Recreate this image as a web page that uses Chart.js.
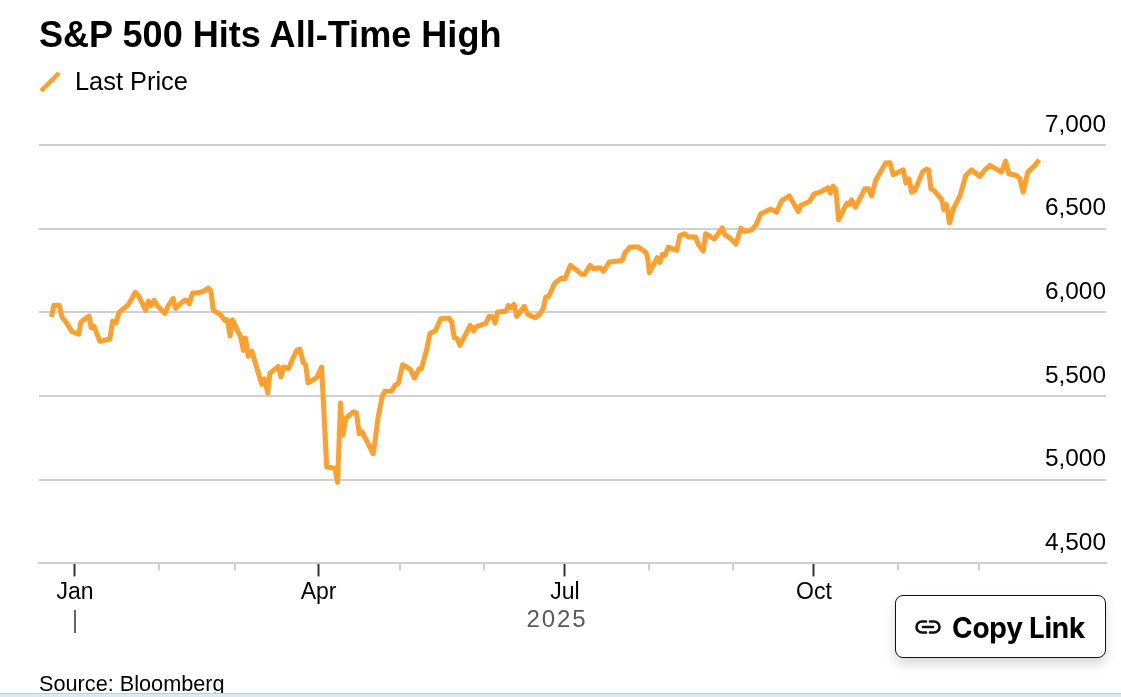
<!DOCTYPE html>
<html>
<head>
<meta charset="utf-8">
<title>S&amp;P 500 Hits All-Time High</title>
<script src="https://cdn.jsdelivr.net/npm/chart.js@4"></script>
<style>
  html, body { margin: 0; padding: 0; background: #fff; overflow: hidden; }
  body { width: 1121px; height: 697px; position: relative; font-family: "Liberation Sans", sans-serif; color: #000; }
  #chart { position: absolute; left: 0; top: 0; }
  .txt { position: absolute; white-space: nowrap; line-height: 1; }
  #title { left: 39px; top: 17px; font-size: 36.1px; font-weight: bold; }
  #legend-mark { position: absolute; left: 39px; top: 71px; }
  #legend { left: 75px; top: 69px; font-size: 25.4px; }
  #source { left: 39px; top: 673px; font-size: 21.7px; }
  #strip { position: absolute; left: 0; top: 693px; width: 1121px; height: 4px; background: #dbeaf2; border-top: 1px solid #b9cfda; box-sizing: border-box; }
  #copy { position: absolute; left: 895px; top: 595px; width: 211px; height: 63px; box-sizing: border-box; border: 1px solid #111; border-radius: 8px; background: #fff; box-shadow: 0 6px 12px rgba(0,0,0,.16); }
  #copy svg { position: absolute; left: 19px; top: 23px; }
  #copy span { position: absolute; left: 56px; top: 18px; font: bold 28px/1 Inter, sans-serif; letter-spacing: -.3px; white-space: nowrap; }
</style>
</head>
<body>
<canvas id="chart" width="1121" height="697"></canvas>
<div class="txt" id="title">S&amp;P 500 Hits All-Time High</div>
<svg id="legend-mark" width="22" height="22"><line x1="2" y1="20" x2="20" y2="2" stroke="#ff9f2e" stroke-width="4.5"/></svg>
<div class="txt" id="legend">Last Price</div>
<div class="txt" id="source">Source: Bloomberg</div>
<div id="strip"></div>
<div id="copy">
  <svg width="26" height="16" viewBox="0 0 26 16" fill="none" stroke="#111" stroke-width="2.6" stroke-linecap="round">
    <path d="M11 2.5H7a5.5 5.5 0 0 0 0 11h4"/>
    <path d="M15 2.5h4a5.5 5.5 0 0 1 0 11h-4"/>
    <path d="M8 8h10"/>
  </svg>
  <span>Copy Link</span>
</div>
<script>
// days counted from 1 Jan 2025
const days = [
  -8.7, -7.8, -5.8, -4.8, -3.1, -1, 1.4, 2.2, 5.2, 6, 7, 9.2, 12.9, 13.9, 15.1, 16.3, 19.8, 22.3, 23.6, 26.1,
  27.1, 28.2, 29.2, 30.4, 33.3, 34.5, 36.3, 37.1, 40, 41.3, 42.2, 43.4, 45, 47.4, 49.3, 50.2, 51.1, 53.6, 55.4, 56.3,
  57.3, 58.2, 60.3, 61.2, 62.2, 63, 64, 65.3, 69, 70, 71.2, 72, 75.1, 76.1, 77.2, 78.8, 81.9, 83.1, 84.3, 85.2,
  86.1, 89.3, 91.1, 93, 96, 97, 98.1, 98.9, 100.1, 102.8, 104, 105, 106, 110.2, 111.2, 112, 113.5, 114.5, 117, 118.2,
  119.5, 121, 123.8, 125.4, 127.2, 128, 130, 131.1, 132, 133.2, 135.1, 138.2, 139.2, 140.1, 141.2, 142.2, 146, 147.2, 148, 151.8,
  153, 154.3, 155.2, 156.1, 159.2, 160.1, 161.1, 162.2, 163.2, 166, 167.2, 170, 171.8, 173, 173.9, 174.9, 177, 178, 179.8, 181,
  183, 184.7, 187.2, 188.2, 190.3, 191.5, 194, 195.2, 197.4, 200.1, 202.2, 203.2, 205, 208.1, 211, 211.6, 212.2, 215.1, 216.1, 217,
  218, 219.2, 222.3, 223.5, 225.3, 226.6, 229.3, 230.3, 232.1, 233, 236.2, 239.1, 240.1, 242, 244.2, 246, 247.1, 250, 251.6, 253.3,
  257, 259.2, 261.1, 263.9, 267.2, 268.1, 271.3, 273.1, 275.2, 278.3, 279.1, 280.1, 281.1, 282.1, 285.1, 286, 286.9, 288.3, 291.8, 293.1,
  294.3, 295.8, 299.5, 301.1, 302.3, 306, 307, 308.1, 309.1, 310.3, 313.1, 314.6, 315.4, 316.2, 317.4, 320.2, 321, 322, 323.1, 324.5,
  327, 329.1, 331.2, 334.3, 336.2, 338, 342.3, 343.8, 345, 347.9, 349.1, 350.3, 352, 354.6, 356.2
];
const lastPrice = [
  5972, 6042, 6042, 5972, 5936, 5884, 5869, 5942, 5978, 5908, 5916, 5827, 5841, 5948, 5936, 6000, 6048, 6120, 6096, 6012,
  6068, 6040, 6072, 6040, 5994, 6042, 6084, 6024, 6068, 6072, 6052, 6116, 6116, 6125, 6145, 6127, 6012, 5988, 5952, 5956,
  5859, 5956, 5882, 5853, 5773, 5845, 5737, 5769, 5570, 5602, 5518, 5637, 5677, 5614, 5673, 5663, 5773, 5781, 5701, 5687,
  5578, 5610, 5673, 5076, 5068, 4984, 5458, 5265, 5367, 5406, 5398, 5275, 5287, 5155, 5275, 5375, 5498, 5528, 5530, 5564,
  5578, 5687, 5661, 5608, 5663, 5663, 5783, 5872, 5882, 5892, 5962, 5966, 5942, 5849, 5843, 5803, 5922, 5888, 5912, 5936,
  5976, 5972, 5936, 6002, 6006, 6042, 6028, 6048, 5976, 6036, 5988, 5968, 5992, 6022, 6092, 6092, 6167, 6185, 6205, 6201,
  6281, 6261, 6227, 6227, 6281, 6261, 6267, 6245, 6301, 6305, 6311, 6355, 6390, 6390, 6357, 6321, 6237, 6327, 6297, 6347,
  6341, 6390, 6370, 6460, 6470, 6450, 6450, 6406, 6366, 6470, 6438, 6504, 6464, 6444, 6408, 6502, 6484, 6494, 6522, 6588,
  6618, 6598, 6668, 6696, 6602, 6638, 6662, 6708, 6718, 6744, 6712, 6754, 6732, 6552, 6652, 6644, 6672, 6628, 6738, 6738,
  6696, 6788, 6892, 6894, 6822, 6852, 6772, 6798, 6718, 6728, 6838, 6856, 6852, 6738, 6728, 6674, 6614, 6644, 6534, 6618,
  6698, 6818, 6852, 6812, 6852, 6878, 6838, 6904, 6828, 6818, 6798, 6718, 6838, 6878, 6912
];
const quarterDays = [0, 90, 181, 273];
const quarterLabels = ['Jan', 'Apr', 'Jul', 'Oct'];
const minorDays = [31, 59, 120, 151, 212, 243, 304, 334];
const yTicks = [4500, 5000, 5500, 6000, 6500, 7000];

// month ticks and the year label under the axis
const axisExtras = {
  id: 'axisExtras',
  afterDraw(chart) {
    const c = chart.ctx, x = chart.scales.x, y0 = chart.chartArea.bottom;
    c.save();
    c.strokeStyle = '#d0d0d0';
    c.lineWidth = 2;
    minorDays.forEach(d => {
      const px = Math.round(x.getPixelForValue(d));
      c.beginPath(); c.moveTo(px, y0); c.lineTo(px, y0 + 7); c.stroke();
    });
    const jan = Math.round(x.getPixelForValue(0));
    c.strokeStyle = '#666';
    c.beginPath(); c.moveTo(jan, 610); c.lineTo(jan, 633); c.stroke();
    c.fillStyle = '#5a5a5a';
    c.font = '24px "Liberation Sans"';
    c.letterSpacing = '1.9px';
    c.textAlign = 'center';
    c.textBaseline = 'middle';
    c.fillText('2025', 557, 620);
    c.restore();
  }
};

new Chart(document.getElementById('chart'), {
  type: 'line',
  data: {
    datasets: [{
      label: 'Last Price',
      data: days.map((d, i) => ({ x: d, y: lastPrice[i] })),
      borderColor: '#ff9f2e',
      borderWidth: 5,
      pointRadius: 0,
      tension: 0,
      borderJoinStyle: 'round',
      clip: false
    }]
  },
  options: {
    responsive: false,
    animation: false,
    layout: { padding: { left: 39, right: 15, top: 145, bottom: 89 } },
    plugins: { legend: { display: false }, tooltip: { enabled: false } },
    scales: {
      x: {
        type: 'linear',
        min: -13.3,
        max: 380.9,
        afterBuildTicks: s => { s.ticks = quarterDays.map(v => ({ value: v })); },
        grid: { drawOnChartArea: false, tickLength: 13, tickColor: '#333', tickWidth: 2 },
        border: { color: '#d0d0d0', width: 2 },
        ticks: {
          autoSkip: false,
          maxRotation: 0,
          padding: 2,
          color: '#000',
          font: { family: 'Liberation Sans', size: 23 },
          callback: v => quarterLabels[quarterDays.indexOf(v)]
        }
      },
      y: {
        position: 'right',
        min: 4500,
        max: 7000,
        afterBuildTicks: s => { s.ticks = yTicks.map(v => ({ value: v })); },
        grid: { color: '#d0d0d0', lineWidth: 2, drawTicks: false },
        border: { display: false },
        ticks: {
          mirror: true,
          padding: 0,
          labelOffset: -20,
          color: '#000',
          font: { family: 'Liberation Sans', size: 24.4 },
          callback: v => v.toLocaleString('en-US')
        }
      }
    }
  },
  plugins: [axisExtras]
});
</script>
</body>
</html>
